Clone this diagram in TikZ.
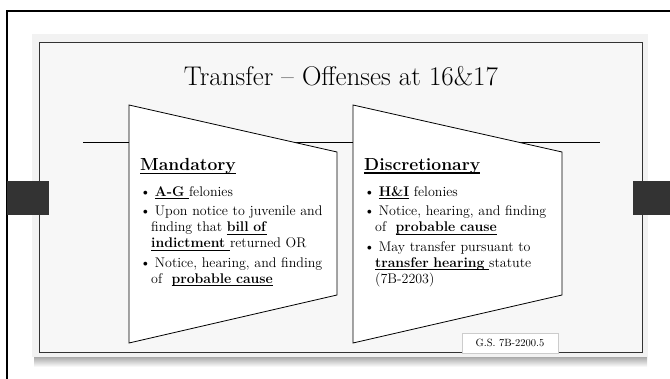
\documentclass[tikz,border=0pt]{standalone}
\usepackage{tikz}
\usetikzlibrary{positioning}

\definecolor{slidebg}{HTML}{F7F7F7}
\definecolor{slideedge}{HTML}{F2F2F2}
\definecolor{bargray}{HTML}{333333}

\newsavebox{\termbox}
\newcommand{\keyterm}[1]{\leavevmode\sbox{\termbox}{\textbf{#1}}%
  \rlap{\rule[-0.2em]{\wd\termbox}{0.07em}}\usebox{\termbox}}
\newenvironment{pointlist}{%
  \begin{list}{\textbullet}{%
    \setlength{\leftmargin}{11pt}\setlength{\labelwidth}{7pt}%
    \setlength{\labelsep}{4pt}\setlength{\itemsep}{3.5pt}%
    \setlength{\topsep}{0pt}\setlength{\parsep}{0pt}\setlength{\partopsep}{0pt}}}%
  {\end{list}}

\tikzset{
  trap/.style={draw=black, fill=white, line width=0.8pt},
  headline/.style={font=\fontsize{27}{30}\selectfont, inner sep=0pt},
  block/.style={anchor=north west, text width=195pt, align=left, inner sep=0pt,
    font=\fontsize{14}{16}\selectfont},
  cite/.style={draw=black!20, fill=white, minimum width=96pt, minimum height=20pt,
    inner sep=0pt, font=\fontsize{10.5}{12}\selectfont},
}

\begin{document}
\begin{tikzpicture}[x=1pt,y=-1pt]
    \useasboundingbox (0,0) rectangle (670,379);
    % page frame
    \draw[line width=2pt] (7,379) -- (7,11) -- (670,11);

    % slide and its shadow
    \shade[top color=black!40, bottom color=white] (34,355) rectangle (647,367);
    \fill[slideedge] (32,34) rectangle (648,357);
    \draw[black!80, fill=slidebg, line width=0.8pt] (39,42) rectangle (642,352);

    \node[headline] (title) at (341,76) {Transfer -- Offenses at 16\&17};
    \draw[line width=0.8pt] (83,142) -- (600,142);

    \draw[trap] (129,105) -- (337,152) -- (337,295) -- (129,343) -- cycle;
    \draw[trap] (353,105) -- (562,152) -- (562,295) -- (353,343) -- cycle;

    \node[block] (mand) at (140,158) {%
      {\fontsize{17.5}{20}\selectfont\keyterm{Mandatory}}\par\vspace{10pt}
      \begin{pointlist}
        \item \keyterm{A-G\ }felonies
        \item Upon notice to juvenile and\newline finding that \keyterm{bill of}\newline \keyterm{indictment\ }returned OR
        \item Notice, hearing, and finding\newline of \ \keyterm{probable cause}
      \end{pointlist}};

    \node[block] (disc) at (364,158) {%
      {\fontsize{17.5}{20}\selectfont\keyterm{Discretionary}}\par\vspace{10pt}
      \begin{pointlist}
        \item \keyterm{H\&I} felonies
        \item Notice, hearing, and finding\newline of \ \keyterm{probable cause}
        \item May transfer pursuant to\newline \keyterm{transfer hearing\ }statute\newline (7B-2203)
      \end{pointlist}};

    \node[cite] (gs) at (510,343) {G.S. 7B-2200.5};

    % side tabs
    \fill[bargray] (7,181) rectangle (49,215);
    \fill[bargray] (633,181) rectangle (670,215);
\end{tikzpicture}
\end{document}
